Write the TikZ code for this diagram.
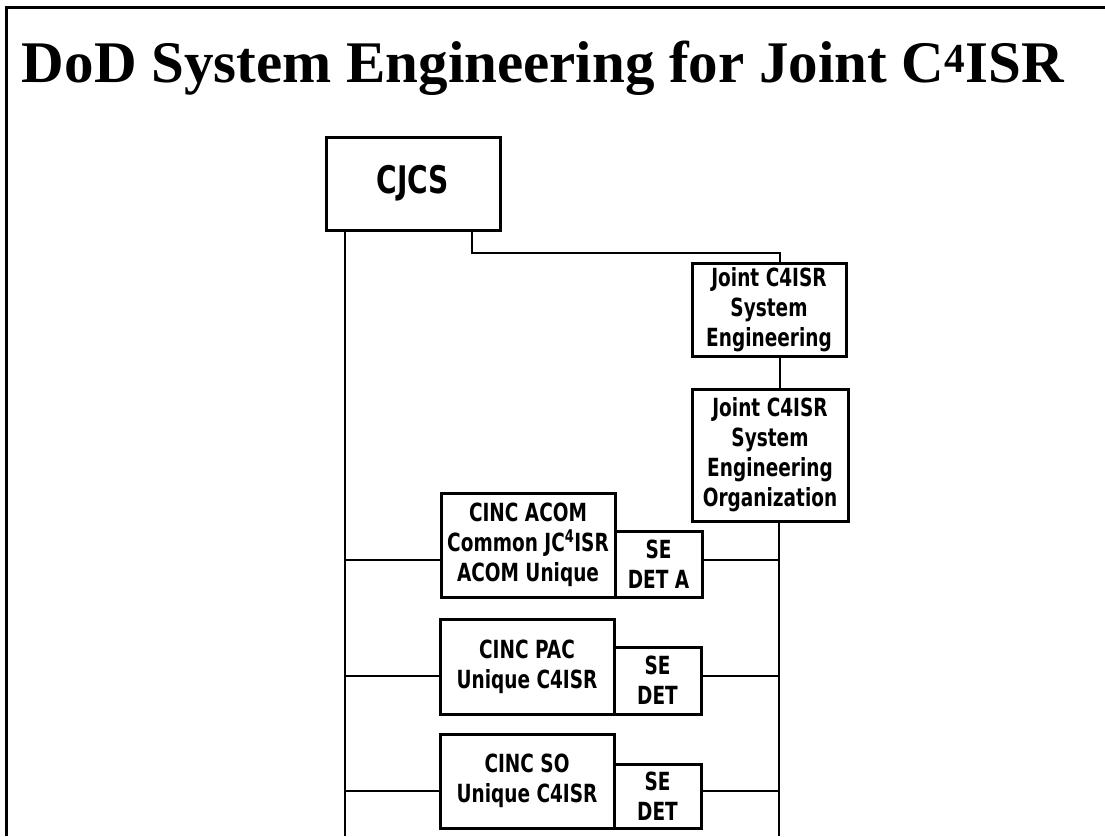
\documentclass[tikz,border=0pt]{standalone}
\usepackage{fontspec}
\setmainfont{Liberation Serif}
\newfontfamily\boxfont{DejaVu Sans}[FakeStretch=0.74]
\begin{document}
\begin{tikzpicture}[x=1pt,y=-1pt,
  box/.style={draw,line width=3pt,rectangle,inner sep=0pt,align=center,
    font=\boxfont\bfseries\fontsize{25}{30}\selectfont},
  wire/.style={line width=2.6pt}]
\useasboundingbox (0,0) rectangle (1105,836);
% frame
\draw[line width=3pt] (6,836) -- (6,7) -- (1105,7);
% title
\node[anchor=base,inner sep=0pt,font=\bfseries\fontsize{59}{64}\selectfont] (title) at (543,82)
  {DoD System Engineering for Joint C\textsuperscript{4}ISR};
% nodes
\node[box,minimum width=174pt,minimum height=93pt,font=\boxfont\bfseries\fontsize{38}{40}\selectfont] (cjcs) at (413,183.5) {CJCS};
\node[box,minimum width=154pt,minimum height=93pt] (jse) at (769,309.5) {Joint C4ISR\\System\\Engineering};
\node[box,minimum width=156pt,minimum height=132pt] (jseo) at (770,455) {Joint C4ISR\\System\\Engineering\\Organization};
\node[box,minimum width=174pt,minimum height=104pt] (acom) at (528,545) {CINC ACOM\\Common JC\textsuperscript{4}ISR\\ACOM Unique};
\node[box,minimum width=87pt,minimum height=66pt] (sedeta) at (658.5,564) {SE\\DET A};
\node[box,minimum width=174pt,minimum height=95pt] (pac) at (527,666.5) {CINC PAC\\Unique C4ISR};
\node[box,minimum width=87pt,minimum height=67pt] (sedetb) at (657.5,680.5) {SE\\DET};
\node[box,minimum width=174pt,minimum height=94pt] (so) at (527,781) {CINC SO\\Unique C4ISR};
\node[box,minimum width=87pt,minimum height=64pt] (sedetc) at (657.5,796) {SE\\DET};
% helper coordinates
\coordinate (L) at (345,836);
\coordinate (R) at (779,836);
\coordinate (k) at (472,253);
\coordinate (kr) at (780,253);
\coordinate (ha) at (0,560);
\coordinate (hb) at (0,676);
\coordinate (hc) at (0,791);
% connectors
\draw[wire] (cjcs.south -| L) -- (L);
\draw[wire] (cjcs.south -| k) -- (k) -- (kr) -- (jse.north -| kr);
\draw[wire] (jse.south -| kr) -- (jseo.north -| kr);
\draw[wire] (jseo.south -| R) -- (R);
\draw[wire] (L |- ha) -- (acom.west |- ha);
\draw[wire] (sedeta.east |- ha) -- (R |- ha);
\draw[wire] (L |- hb) -- (pac.west |- hb);
\draw[wire] (sedetb.east |- hb) -- (R |- hb);
\draw[wire] (L |- hc) -- (so.west |- hc);
\draw[wire] (sedetc.east |- hc) -- (R |- hc);
\end{tikzpicture}
\end{document}
